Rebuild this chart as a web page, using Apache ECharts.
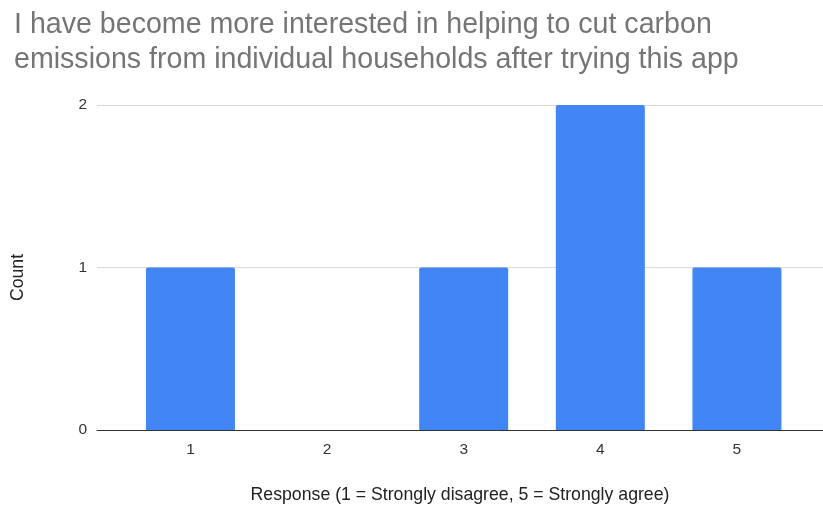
<!DOCTYPE html>
<html>
<head>
<meta charset="utf-8">
<script src="https://cdn.jsdelivr.net/npm/echarts@6/dist/echarts.min.js"></script>
<style>
  html, body { margin: 0; padding: 0; background: #ffffff; }
  #chart { width: 823px; height: 509px; }
</style>
</head>
<body>
<div id="chart"></div>
<script>
// Survey responses on a 1–5 agreement scale and how many people gave each
const categories = ['1', '2', '3', '4', '5'];
const counts = [1, 0, 1, 2, 1];
const yTicks = [0, 1, 2];

const titleText = 'I have become more interested in helping to cut carbon\nemissions from individual households after trying this app';
const xName = 'Response (1 = Strongly disagree, 5 = Strongly agree)';
const yName = 'Count';

const barData = categories.map((c, i) => [Number(c), counts[i]]);

const chart = echarts.init(document.getElementById('chart'), null, { renderer: 'canvas' });
chart.setOption({
  animation: false,
  backgroundColor: '#ffffff',
  title: {
    text: titleText,
    left: 9,
    top: 3,
    textStyle: {
      fontFamily: 'Liberation Sans, Arial, sans-serif',
      fontSize: 28.6,
      fontWeight: 'normal',
      color: '#757575',
      lineHeight: 35
    }
  },
  grid: { left: 97, right: 0, top: 105, bottom: 77, containLabel: false },
  xAxis: {
    type: 'value',
    min: 0.316,
    max: 5.63,
    name: xName,
    nameLocation: 'middle',
    nameGap: 56,
    nameTextStyle: { fontFamily: 'Liberation Sans, Arial, sans-serif', fontSize: 17.7, color: '#222222' },
    axisLine: { show: true, onZero: false, lineStyle: { color: '#333333', width: 1 } },
    axisTick: { show: false },
    splitLine: { show: false },
    axisLabel: {
      customValues: categories.map(Number),
      formatter: v => String(v),
      margin: 12,
      fontFamily: 'Liberation Sans, Arial, sans-serif',
      fontSize: 15.5,
      color: '#333333'
    }
  },
  yAxis: {
    type: 'value',
    min: yTicks[0],
    max: yTicks[yTicks.length - 1],
    interval: 1,
    name: yName,
    nameLocation: 'middle',
    nameGap: 70,
    nameTextStyle: { fontFamily: 'Liberation Sans, Arial, sans-serif', fontSize: 17.7, color: '#222222', padding: [0, 0, 0, -20] },
    axisLine: { show: false },
    axisTick: { show: false },
    splitLine: { show: true, lineStyle: { color: '#d9d9d9', width: 1 } },
    axisLabel: {
      margin: 10,
      fontFamily: 'Liberation Sans, Arial, sans-serif',
      fontSize: 15.5,
      color: '#333333'
    }
  },
  series: [{
    type: 'bar',
    data: barData,
    barWidth: 89,
    itemStyle: { color: '#4285f4', borderRadius: [2, 2, 0, 0] },
    z: 3
  }]
});
</script>
</body>
</html>
